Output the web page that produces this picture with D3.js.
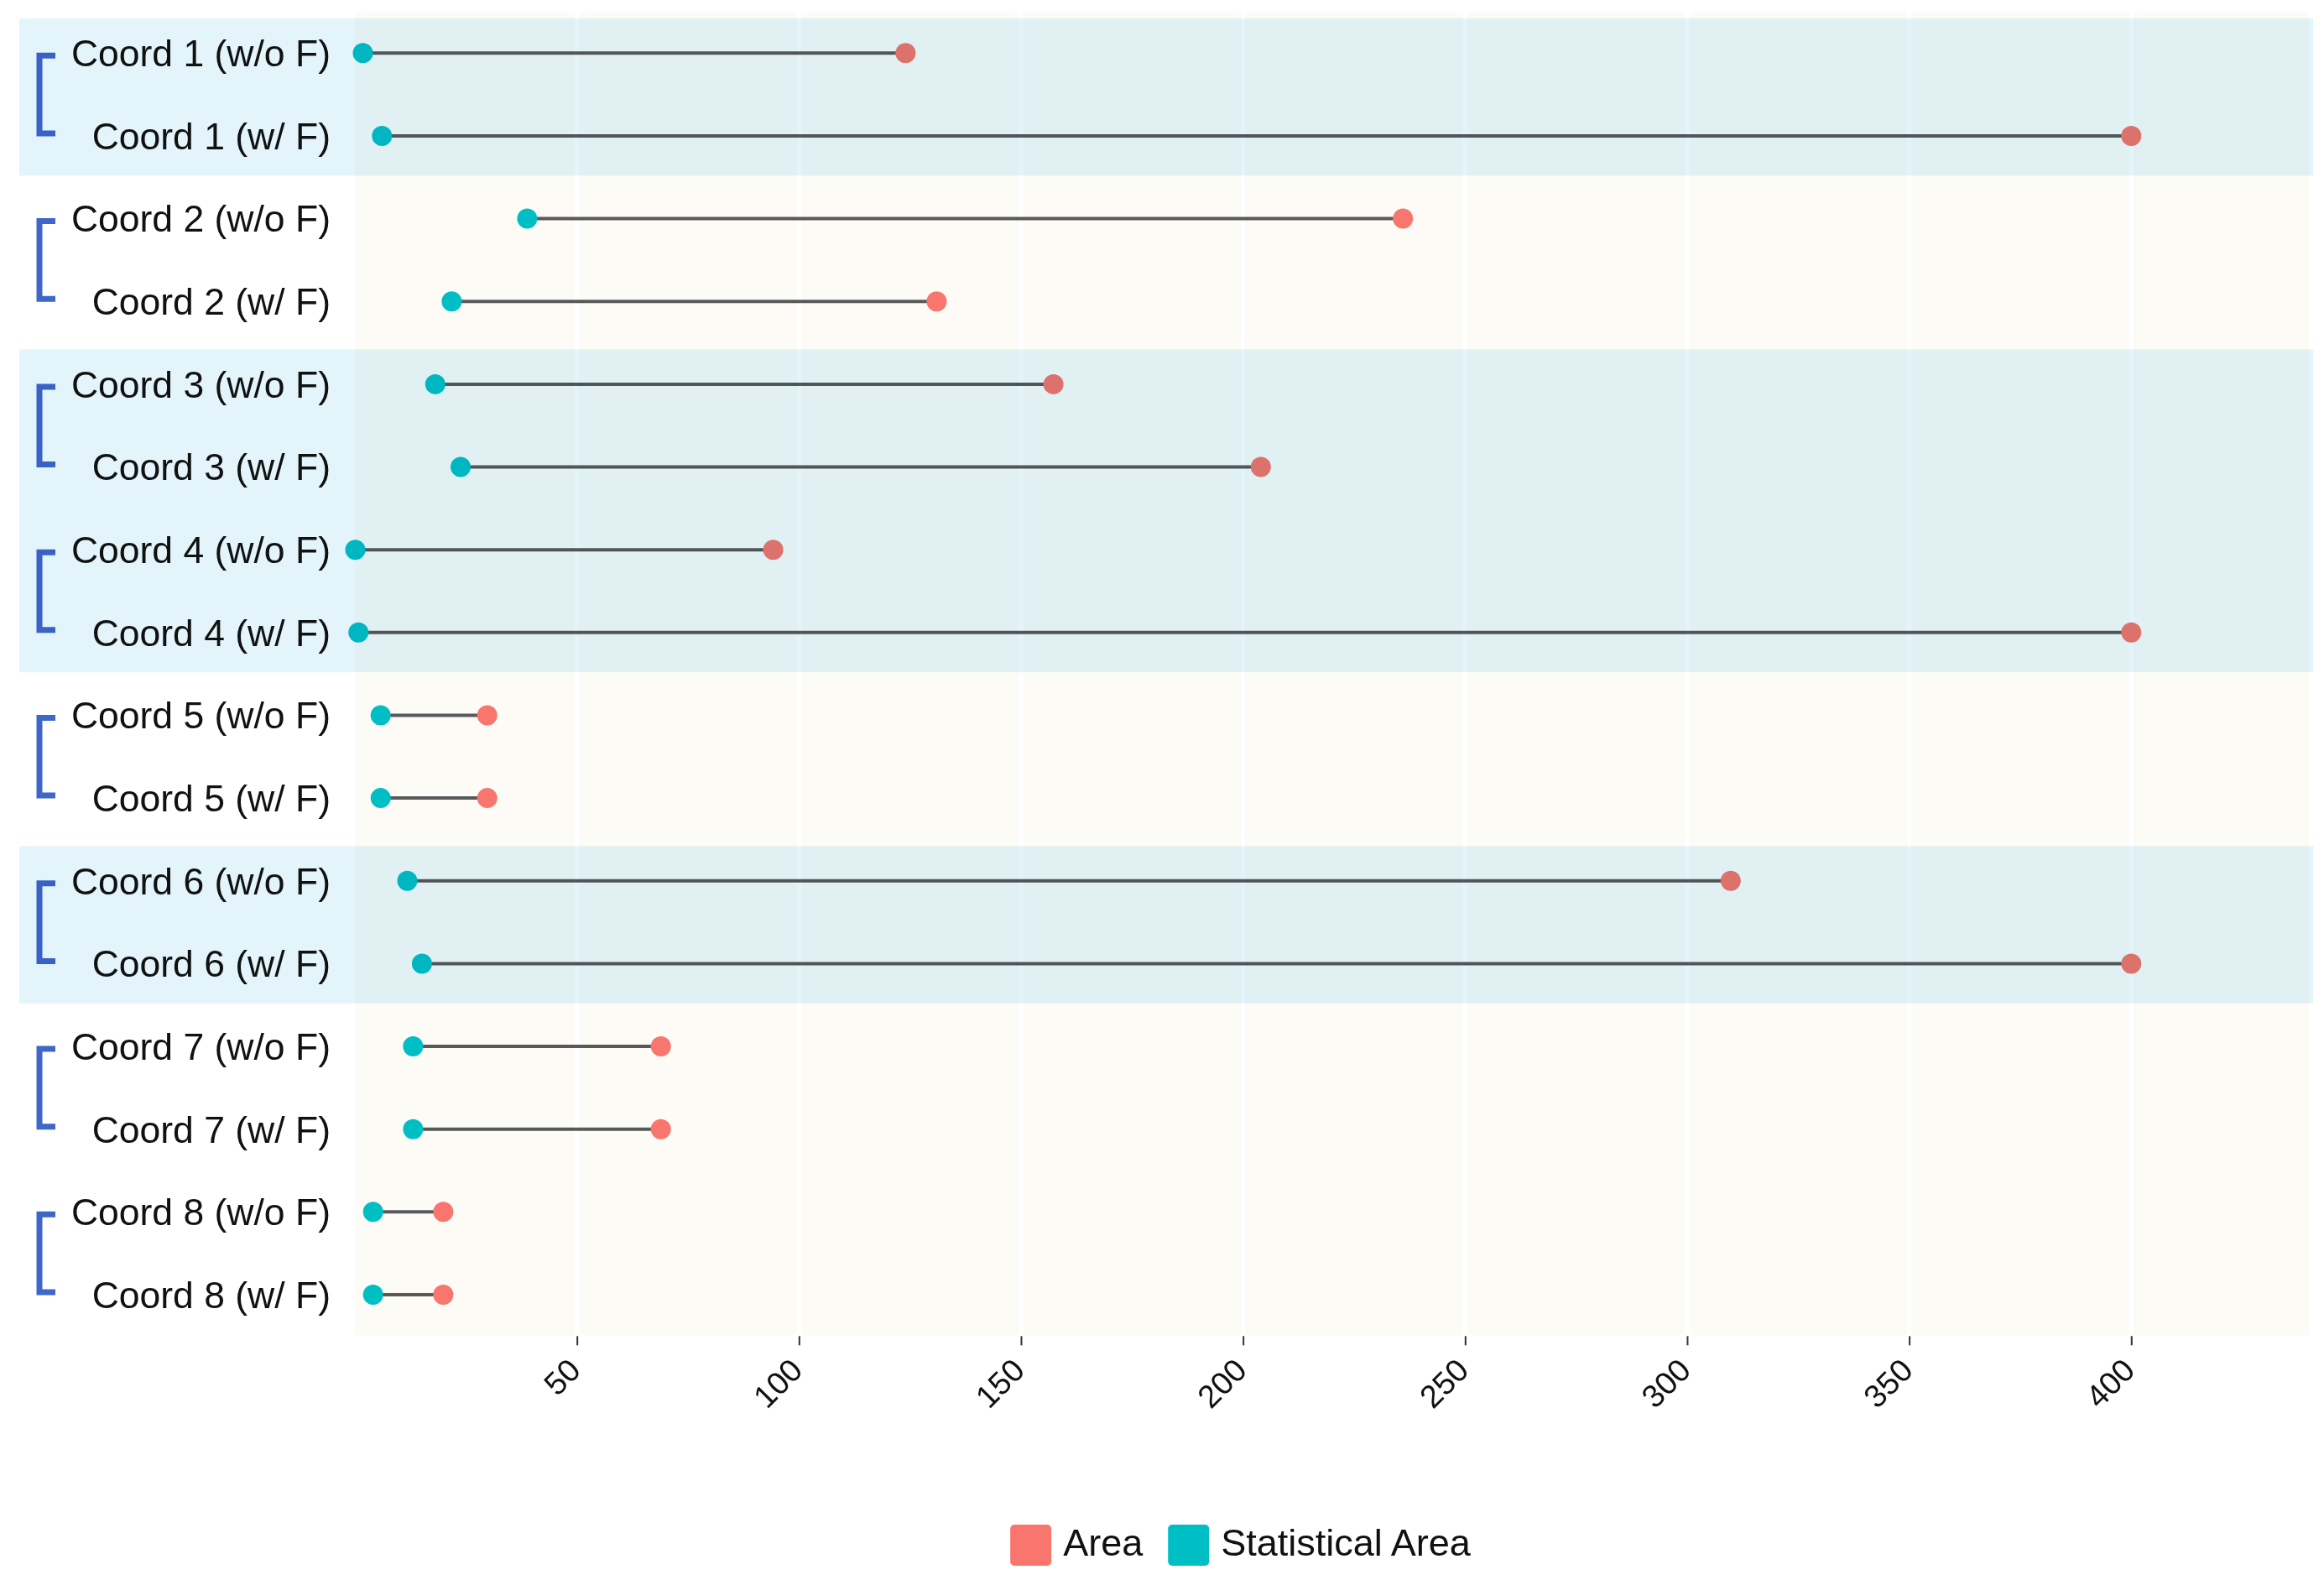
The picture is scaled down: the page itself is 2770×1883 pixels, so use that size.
<!DOCTYPE html>
<html lang="en">
<head>
<meta charset="UTF-8">
<script src="https://d3js.org/d3.v7.min.js"></script>
<title>Area vs Statistical Area by coordinate</title>
<style>
  body { margin: 0; background: #fff; }
  text { font-family: "Liberation Sans", Arial, sans-serif; }
</style>
</head>
<body>
<script>
// Data
const groups = ['Coord 1', 'Coord 2', 'Coord 3', 'Coord 4', 'Coord 5', 'Coord 6', 'Coord 7', 'Coord 8'];
const variants = ['(w/o F)', '(w/ F)'];
const labels = groups.flatMap(g => variants.map(v => `${g} ${v}`));
const areaVals = [124, 400, 236, 131, 157.3, 204, 94.2, 400, 29.8, 29.8, 309.8, 400, 68.9, 68.9, 19.9, 19.9];
const statVals = [1.8, 6.1, 38.8, 21.8, 18.1, 23.8, 0.1, 0.8, 5.8, 5.8, 11.8, 15.1, 13.1, 13.1, 4.1, 4.1];
const shadedGroups = ['Coord 1', 'Coord 3', 'Coord 4', 'Coord 6'];
const xTicks = [50, 100, 150, 200, 250, 300, 350, 400];
const seriesNames = ['Area', 'Statistical Area'];
const seriesColors = ['#f8766d', '#00bfc4'];

const W = 2770, H = 1883;
const svg = d3.select('body').append('svg')
    .attr('width', W)
    .attr('height', H);

svg.append('rect').attr('width', W).attr('height', H).attr('fill', '#fff');

const x = d3.scaleLinear().domain([0, 440]).range([423, 2752]);
const y = d3.scalePoint().domain(labels).range([63.3, 1543]);
const step = y.step();

const panelTop = y(labels[0]) - 0.49 * step;
const panelBottom = y(labels[labels.length - 1]) + 0.49 * step;

// panel background
svg.append('rect')
    .attr('x', x.range()[0]).attr('y', panelTop)
    .attr('width', x.range()[1] - x.range()[0])
    .attr('height', panelBottom - panelTop)
    .attr('fill', '#fcfbf6');

// gridlines
svg.append('g').selectAll('line')
    .data(xTicks)
    .join('line')
    .attr('x1', d => x(d)).attr('x2', d => x(d))
    .attr('y1', panelTop).attr('y2', panelBottom)
    .attr('stroke', '#ffffff')
    .attr('stroke-width', 5);

// x axis
const axis = svg.append('g')
    .attr('transform', `translate(0, ${panelBottom + 1})`)
    .call(d3.axisBottom(x).tickValues(xTicks).tickSize(11).tickSizeOuter(0));
axis.select('.domain').remove();
axis.selectAll('.tick line').attr('stroke', '#333').attr('stroke-width', 2);
axis.selectAll('.tick text')
    .attr('font-size', 38)
    .attr('fill', '#111')
    .attr('text-anchor', 'end')
    .attr('dy', null)
    .attr('y', 0)
    .attr('transform', 'translate(6, 43) rotate(-45)');

// rows
const rows = labels.map((l, i) => ({ label: l, area: areaVals[i], stat: statVals[i] }));

svg.append('g').selectAll('line')
    .data(rows)
    .join('line')
    .attr('x1', d => x(d.stat)).attr('x2', d => x(d.area))
    .attr('y1', d => y(d.label)).attr('y2', d => y(d.label))
    .attr('stroke', '#595959')
    .attr('stroke-width', 4);

svg.append('g').selectAll('circle')
    .data(rows)
    .join('circle')
    .attr('cx', d => x(d.stat)).attr('cy', d => y(d.label))
    .attr('r', 12)
    .attr('fill', seriesColors[1]);

svg.append('g').selectAll('circle')
    .data(rows)
    .join('circle')
    .attr('cx', d => x(d.area)).attr('cy', d => y(d.label))
    .attr('r', 12)
    .attr('fill', seriesColors[0]);

// row labels
svg.append('g').selectAll('text')
    .data(labels)
    .join('text')
    .attr('x', 394)
    .attr('y', d => y(d) + 15.8)
    .attr('text-anchor', 'end')
    .attr('font-size', 44.5)
    .attr('fill', '#111')
    .text(d => d);

// group brackets
svg.append('g').selectAll('path')
    .data(groups)
    .join('path')
    .attr('d', g => {
        const y1 = y(`${g} ${variants[0]}`) + 3;
        const y2 = y(`${g} ${variants[1]}`) - 3;
        return `M66,${y1}H47V${y2}H66`;
    })
    .attr('fill', 'none')
    .attr('stroke', '#3e67c8')
    .attr('stroke-width', 7);

// shaded blocks of consecutive rows
const blocks = [];
labels.forEach((l, i) => {
    const g = groups.find(gr => l.startsWith(gr + ' '));
    if (!shadedGroups.includes(g)) return;
    const last = blocks[blocks.length - 1];
    if (last && last.end === i - 1) last.end = i;
    else blocks.push({ start: i, end: i });
});

svg.append('g').selectAll('rect')
    .data(blocks)
    .join('rect')
    .attr('x', 23)
    .attr('width', 2757 - 23)
    .attr('y', d => y(labels[d.start]) - 0.42 * step)
    .attr('height', d => y(labels[d.end]) - y(labels[d.start]) + 0.9 * step)
    .attr('fill', '#e4f4fb')
    .style('mix-blend-mode', 'multiply');

// legend
const legendFont = 45;
const sw = 49;
const legend = svg.append('g');
let lx = 0;
seriesNames.forEach((name, i) => {
    const g = legend.append('g');
    g.append('rect')
        .attr('x', lx).attr('y', 0)
        .attr('width', sw).attr('height', sw)
        .attr('rx', 5)
        .attr('fill', seriesColors[i]);
    const t = g.append('text')
        .attr('x', lx + sw + 14)
        .attr('y', 37)
        .attr('font-size', legendFont)
        .attr('fill', '#111')
        .text(name);
    lx += sw + 14 + t.node().getComputedTextLength() + 30;
});
const legendWidth = lx - 30;
legend.attr('transform', `translate(${1478.5 - legendWidth / 2}, 1817)`);
</script>
</body>
</html>
